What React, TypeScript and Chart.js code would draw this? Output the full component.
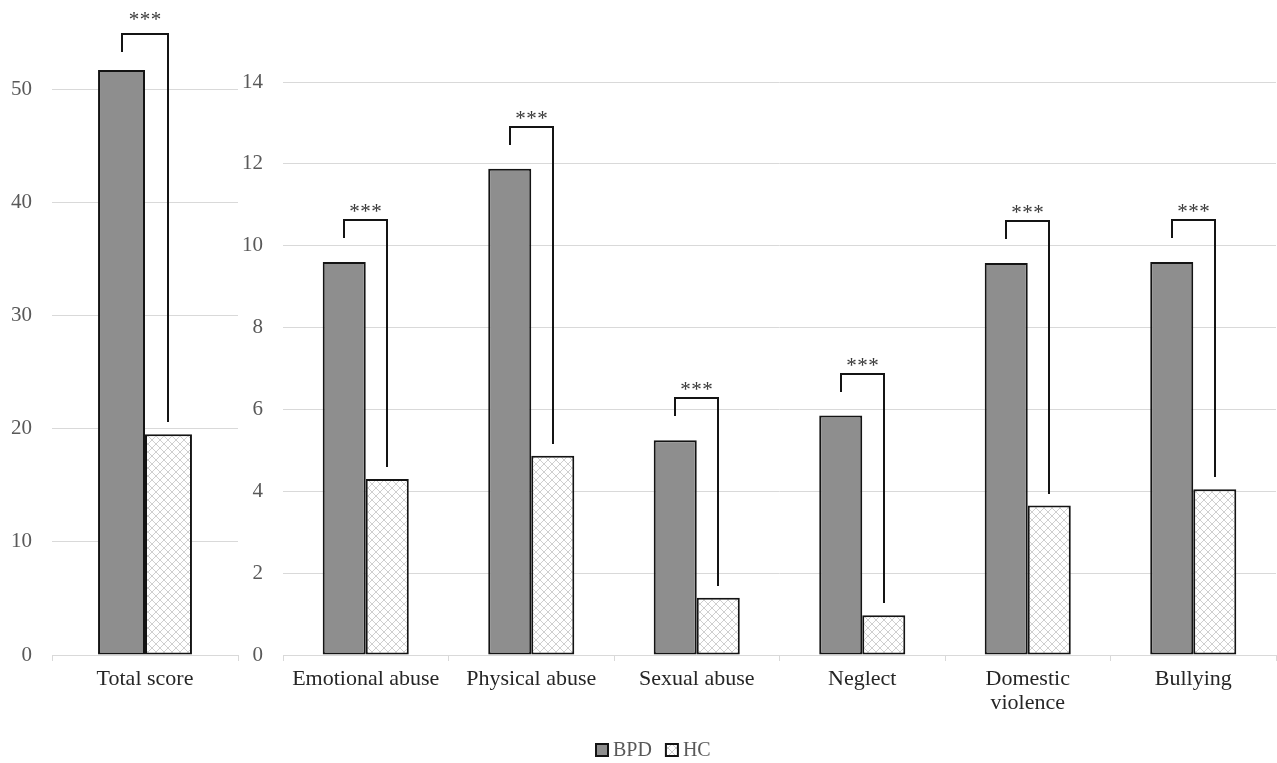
import React, { useEffect, useRef } from 'react';
import { Chart, registerables } from 'chart.js';

Chart.register(...registerables);

// ---- Data ----
const totalLabels: string[] = ['Total score'];
const totalBPD: number[] = [51.7];
const totalHC: number[] = [19.5];
const totalSignificance: string[] = ['***'];

const subLabels: (string | string[])[] = [
  'Emotional abuse',
  'Physical abuse',
  'Sexual abuse',
  'Neglect',
  ['Domestic', 'violence'],
  'Bullying',
];
const subBPD: number[] = [9.6, 11.88, 5.25, 5.85, 9.58, 9.6];
const subHC: number[] = [4.3, 4.87, 1.4, 0.97, 3.65, 4.05];
const subSignificance: string[] = ['***', '***', '***', '***', '***', '***'];

const seriesNames: string[] = ['BPD', 'HC'];

const totalAxisMax = 55;
const totalAxisStep = 10;
const subAxisMax = 14;
const subAxisStep = 2;

// ---- Styles ----
const FONT = '"Liberation Serif", "Times New Roman", serif';
const BPD_FILL = '#8e8e8e';
const BORDER = '#141414';
const GRID = '#d9d9d9';
const TICK_COLOR = '#595959';
const LABEL_COLOR = '#262626';

function makePattern(): CanvasPattern | string {
  const c = document.createElement('canvas');
  c.width = 8;
  c.height = 8;
  const g = c.getContext('2d');
  if (!g) return '#eee';
  g.fillStyle = '#ffffff';
  g.fillRect(0, 0, 8, 8);
  g.strokeStyle = '#cfcfcf';
  g.lineWidth = 1;
  g.beginPath();
  g.moveTo(-1, -1);
  g.lineTo(9, 9);
  g.moveTo(9, -1);
  g.lineTo(-1, 9);
  g.stroke();
  return g.createPattern(c, 'repeat') || '#eee';
}

const bracketPlugin = {
  id: 'brackets',
  afterDatasetsDraw(chart: any, _args: any, opts: any) {
    const labels: string[] = opts.labels || [];
    const m0 = chart.getDatasetMeta(0);
    const m1 = chart.getDatasetMeta(1);
    const ctx: CanvasRenderingContext2D = chart.ctx;
    ctx.save();
    ctx.strokeStyle = BORDER;
    ctx.lineWidth = 2;
    ctx.lineJoin = 'miter';
    labels.forEach((lab, i) => {
      const a = m0.data[i];
      const b = m1.data[i];
      if (!a || !b) return;
      const top = Math.round(a.y - opts.topOffset);
      const legBottom = Math.round(a.y - opts.legOffset);
      const rightBottom = Math.round(b.y - 12);
      const xl = Math.round(a.x);
      const xr = Math.round(b.x);
      ctx.beginPath();
      ctx.moveTo(xl, legBottom);
      ctx.lineTo(xl, top);
      ctx.lineTo(xr, top);
      ctx.lineTo(xr, rightBottom);
      ctx.stroke();
      ctx.fillStyle = '#3a3a3a';
      ctx.font = `21px ${FONT}`;
      ctx.textAlign = 'center';
      ctx.textBaseline = 'alphabetic';
      const cx = (xl + xr) / 2;
      const chars = lab.split('');
      const step = 11;
      chars.forEach((ch, k) => {
        ctx.fillText(ch, cx + (k - (chars.length - 1) / 2) * step, top + opts.textShift);
      });
    });
    ctx.restore();
  },
};

const legendPlugin = {
  id: 'customLegend',
  afterDraw(chart: any, _args: any, opts: any) {
    if (!opts.show) return;
    const ctx: CanvasRenderingContext2D = chart.ctx;
    const fills = opts.fills;
    ctx.save();
    ctx.font = `20px ${FONT}`;
    ctx.textBaseline = 'middle';
    ctx.textAlign = 'left';
    const y = 750;
    const sw = 12;
    const gapText = 5;
    const gapItem = 14;
    let total = 0;
    seriesNames.forEach((n, i) => {
      total += sw + gapText + ctx.measureText(n).width + (i < seriesNames.length - 1 ? gapItem : 0);
    });
    let x = Math.round(chart.width / 2 + 15 - total / 2);
    seriesNames.forEach((n, i) => {
      ctx.fillStyle = fills[i];
      ctx.fillRect(x, y - sw / 2, sw, sw);
      ctx.strokeStyle = BORDER;
      ctx.lineWidth = 2;
      ctx.strokeRect(x, y - sw / 2, sw, sw);
      ctx.fillStyle = TICK_COLOR;
      ctx.fillText(n, x + sw + gapText, y + 1);
      x += sw + gapText + ctx.measureText(n).width + gapItem;
    });
    ctx.restore();
  },
};

function buildConfig(
  labels: (string | string[])[],
  bpd: number[],
  hc: number[],
  sig: string[],
  pattern: any,
  pct: number,
  padding: any,
  yMax: number,
  yStep: number,
  bracket: { topOffset: number; legOffset: number; textShift: number },
  showLegend: boolean
): any {
  const ds = (label: string, data: number[], fill: any) => ({
    label,
    data,
    backgroundColor: fill,
    borderColor: BORDER,
    borderWidth: 2,
    borderSkipped: false,
    categoryPercentage: pct,
    barPercentage: 1,
  });
  return {
    type: 'bar',
    data: {
      labels,
      datasets: [ds(seriesNames[0], bpd, BPD_FILL), ds(seriesNames[1], hc, pattern)],
    },
    options: {
      responsive: false,
      animation: false,
      layout: { padding },
      plugins: {
        legend: { display: false },
        tooltip: { enabled: false },
        brackets: { labels: sig, ...bracket },
        customLegend: { show: showLegend, fills: [BPD_FILL, pattern] },
      },
      scales: {
        x: {
          grid: {
            display: true,
            drawOnChartArea: false,
            drawTicks: true,
            tickLength: 6,
            color: GRID,
            offset: true,
          },
          border: { display: true, color: GRID, width: 1 },
          ticks: {
            font: { family: FONT, size: 22, lineHeight: 1.1 },
            color: LABEL_COLOR,
            padding: 6,
            maxRotation: 0,
            autoSkip: false,
          },
          afterFit: (s: any) => {
            s.height = 60;
          },
        },
        y: {
          min: 0,
          max: yMax,
          ticks: {
            stepSize: yStep,
            includeBounds: false,
            font: { family: FONT, size: 21 },
            color: TICK_COLOR,
            padding: 20,
          },
          grid: { color: GRID, drawTicks: false, lineWidth: 1 },
          border: { display: false },
          afterFit: (s: any) => {
            s.width = 52;
          },
        },
      },
    },
    plugins: [bracketPlugin, legendPlugin],
  };
}

export default function App() {
  const leftRef = useRef<HTMLCanvasElement>(null);
  const rightRef = useRef<HTMLCanvasElement>(null);

  useEffect(() => {
    const pattern = makePattern();
    const charts: Chart[] = [];
    if (rightRef.current) {
      charts.push(
        new Chart(
          rightRef.current,
          buildConfig(
            subLabels,
            subBPD,
            subHC,
            subSignificance,
            pattern,
            0.52,
            { left: 231, right: 1, top: 82, bottom: 48 },
            subAxisMax,
            subAxisStep,
            { topOffset: 42, legOffset: 24, textShift: -2 },
            true
          )
        )
      );
    }
    if (leftRef.current) {
      charts.push(
        new Chart(
          leftRef.current,
          buildConfig(
            totalLabels,
            totalBPD,
            totalHC,
            totalSignificance,
            pattern,
            0.505,
            { left: 0, right: 7, top: 31, bottom: 48 },
            totalAxisMax,
            totalAxisStep,
            { topOffset: 36, legOffset: 18, textShift: -8 },
            false
          )
        )
      );
    }
    return () => {
      charts.forEach((c) => c.destroy());
    };
  }, []);

  return (
    <div
      style={{
        position: 'fixed',
        left: 0,
        top: 0,
        width: 1277,
        height: 763,
        background: '#ffffff',
      }}
    >
      <canvas
        ref={rightRef}
        width={1277}
        height={763}
        style={{ position: 'absolute', left: 0, top: 0, width: 1277, height: 763 }}
      />
      <canvas
        ref={leftRef}
        width={245}
        height={763}
        style={{ position: 'absolute', left: 0, top: 0, width: 245, height: 763 }}
      />
    </div>
  );
}
